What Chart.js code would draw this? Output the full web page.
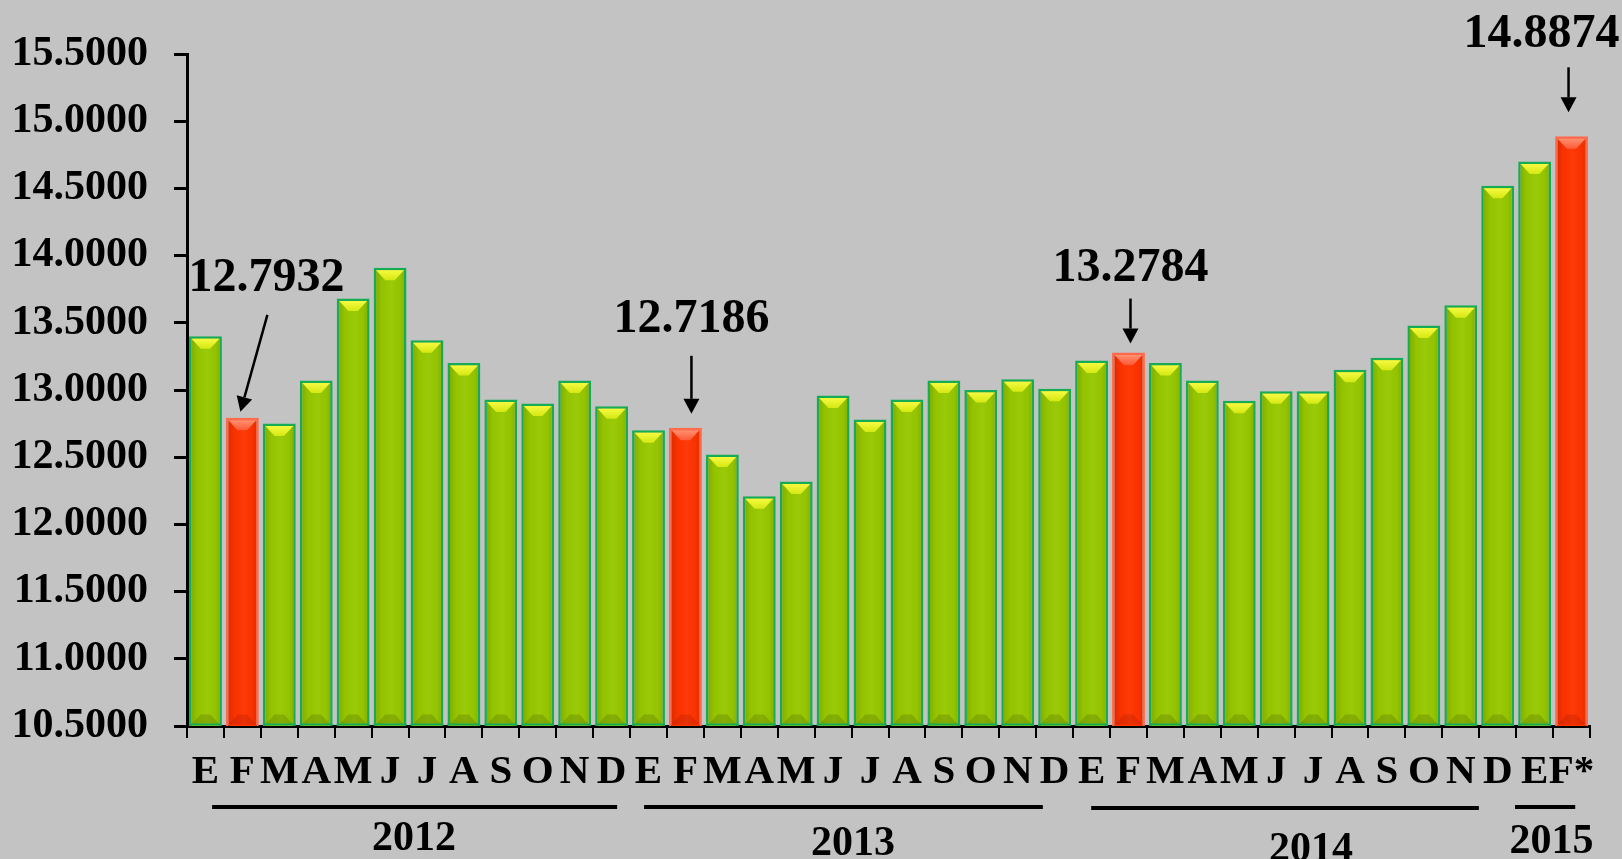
<!DOCTYPE html>
<html><head><meta charset="utf-8">
<script src="https://cdn.jsdelivr.net/npm/chart.js@4.4.1/dist/chart.umd.min.js"></script>
<style>html,body{margin:0;padding:0;background:#c3c3c3;}canvas{display:block;}</style>
</head><body>
<canvas id="c" width="1622" height="859"></canvas>
<script>
// ---- data ----
const monthLabels = ['E','F','M','A','M','J','J','A','S','O','N','D'];
const years = ['2012','2013','2014','2015'];
const values2012 = [13.40, 12.7932, 12.75, 13.07, 13.68, 13.91, 13.37, 13.20, 12.93, 12.90, 13.07, 12.88];
const values2013 = [12.70, 12.7186, 12.52, 12.21, 12.32, 12.96, 12.78, 12.93, 13.07, 13.00, 13.08, 13.01];
const values2014 = [13.22, 13.2784, 13.20, 13.07, 12.92, 12.99, 12.99, 13.15, 13.24, 13.48, 13.63, 14.52];
const values2015 = [14.70, 14.8874];
const labels2015 = ['E','F*'];
const highlightIdx = [1, 13, 25, 37];
const calloutTexts = ['12.7932', '12.7186', '13.2784', '14.8874'];
const yMin = 10.5, yMax = 15.5, yStep = 0.5;

const categories = [...monthLabels, ...monthLabels, ...monthLabels, ...labels2015];
const values = [...values2012, ...values2013, ...values2014, ...values2015];

// ---- layout / style (decoration) ----
const SERIF = '"Liberation Serif", "Times New Roman", serif';
const GREEN = '#97c800', GREEN_BORDER = '#16ab55';
const RED = '#ff3300', RED_BORDER = '#ff6a4c';
const calloutLayout = [
  {tx: 24, ty: -127, ax0: 25, ay0: -103, ax1: -2, ay1: -6},
  {tx: 6, ty: -96, ax0: 6, ay0: -72, ax1: 6, ay1: -14},
  {tx: 2, ty: -72, ax0: 2, ay0: -54, ax1: 2, ay1: -9},
  {tx: -30, ty: -89, ax0: -3, ay0: -69, ax1: -3, ay1: -24}
];
const yearLayout = [
  {from: 0.18, to: 11.15, textAt: 5.65, lineY: 807, textY: 850},
  {from: 11.88, to: 22.68, textAt: 17.54, lineY: 807, textY: 855},
  {from: 23.99, to: 34.49, textAt: 29.94, lineY: 808, textY: 861},
  {from: 35.47, to: 37.1, textAt: 36.46, lineY: 807, textY: 853}
];

const isRed = i => highlightIdx.includes(i);

const bevelPlugin = {
  id: 'bevel',
  afterDatasetsDraw(chart) {
    const ctx = chart.ctx;
    const area = chart.chartArea;
    const meta = chart.getDatasetMeta(0);
    ctx.save();
    ctx.beginPath();
    ctx.rect(area.left, area.top, area.right - area.left, area.bottom - area.top);
    ctx.clip();
    meta.data.forEach((bar, i) => {
      const {x, y, base, width} = bar.getProps(['x', 'y', 'base', 'width'], true);
      const red = isRed(i);
      const b = 2.5;
      const l = x - width / 2 + b, r = x + width / 2 - b;
      const t = y + b, bt = Math.min(base, area.bottom) - 1.5;
      // horizontal shading
      const g = ctx.createLinearGradient(l, 0, r, 0);
      g.addColorStop(0, 'rgba(0,0,0,0.13)');
      g.addColorStop(0.22, 'rgba(0,0,0,0.02)');
      g.addColorStop(0.55, 'rgba(255,255,255,0.04)');
      g.addColorStop(0.85, 'rgba(0,0,0,0.02)');
      g.addColorStop(1, 'rgba(0,0,0,0.10)');
      ctx.fillStyle = g;
      ctx.fillRect(l, t, r - l, bt - t);
      // top bevel
      const bh = 10;
      const half = (r - l) * 0.17;
      const tg = ctx.createLinearGradient(0, t, 0, t + bh);
      if (red) { tg.addColorStop(0, '#ff9070'); tg.addColorStop(1, '#ff5a36'); }
      else { tg.addColorStop(0, '#f6fa40'); tg.addColorStop(1, '#d4e812'); }
      ctx.fillStyle = tg;
      ctx.beginPath();
      ctx.moveTo(l, t); ctx.lineTo(r, t); ctx.lineTo(x + half, t + bh); ctx.lineTo(x - half, t + bh);
      ctx.closePath(); ctx.fill();
      // bottom bevel
      ctx.fillStyle = red ? 'rgba(150,20,0,0.22)' : 'rgba(70,90,0,0.25)';
      ctx.beginPath();
      ctx.moveTo(l, bt); ctx.lineTo(r, bt); ctx.lineTo(x + half, bt - bh); ctx.lineTo(x - half, bt - bh);
      ctx.closePath(); ctx.fill();
      // bottom border line for green bars
      if (!red) { ctx.fillStyle = GREEN_BORDER; ctx.fillRect(l - b, bt - 1, r - l + 2 * b, 2); }
    });
    ctx.restore();
  }
};

const decorPlugin = {
  id: 'decor',
  afterDraw(chart) {
    const ctx = chart.ctx;
    const xs = chart.scales.x, ys = chart.scales.y;
    ctx.save();
    // callouts
    ctx.fillStyle = '#000'; ctx.strokeStyle = '#000';
    ctx.font = 'bold 48px ' + SERIF;
    ctx.textAlign = 'center'; ctx.textBaseline = 'alphabetic';
    highlightIdx.forEach((idx, k) => {
      const L = calloutLayout[k];
      const bx = xs.getPixelForValue(idx);
      const by = ys.getPixelForValue(values[idx]);
      ctx.fillText(calloutTexts[k], bx + L.tx, by + L.ty);
      const x0 = bx + L.ax0, y0 = by + L.ay0, x1 = bx + L.ax1, y1 = by + L.ay1;
      const ang = Math.atan2(y1 - y0, x1 - x0);
      const hl = 15, hw = 8;
      const hx = x1 - hl * Math.cos(ang), hy = y1 - hl * Math.sin(ang);
      ctx.lineWidth = 2.5;
      ctx.beginPath(); ctx.moveTo(x0, y0); ctx.lineTo(hx, hy); ctx.stroke();
      ctx.beginPath();
      ctx.moveTo(x1, y1);
      ctx.lineTo(hx + hw * Math.sin(ang), hy - hw * Math.cos(ang));
      ctx.lineTo(hx - hw * Math.sin(ang), hy + hw * Math.cos(ang));
      ctx.closePath(); ctx.fill();
    });
    // year lines & labels
    ctx.font = 'bold 42px ' + SERIF;
    years.forEach((yr, k) => {
      const Y = yearLayout[k];
      ctx.lineWidth = 4;
      ctx.beginPath();
      ctx.moveTo(xs.getPixelForValue(Y.from), Y.lineY);
      ctx.lineTo(xs.getPixelForValue(Y.to), Y.lineY);
      ctx.stroke();
      ctx.fillText(yr, xs.getPixelForValue(Y.textAt), Y.textY);
    });
    ctx.restore();
  }
};

new Chart(document.getElementById('c'), {
  type: 'bar',
  data: {
    labels: categories,
    datasets: [{
      data: values,
      backgroundColor: values.map((v, i) => isRed(i) ? RED : GREEN),
      borderColor: values.map((v, i) => isRed(i) ? RED_BORDER : GREEN_BORDER),
      borderWidth: 2.5,
      borderSkipped: false,
      barPercentage: 0.89,
      categoryPercentage: 1.0
    }]
  },
  options: {
    responsive: false,
    animation: false,
    layout: {padding: {top: 54, right: 32, bottom: 0, left: 0}},
    plugins: {legend: {display: false}, tooltip: {enabled: false}},
    scales: {
      x: {
        afterFit: s => { s.height = 133; },
        grid: {drawOnChartArea: false, drawTicks: true, tickLength: 12, color: '#000', lineWidth: 2, offset: true},
        border: {display: true, color: '#000', width: 3},
        ticks: {autoSkip: false, maxRotation: 0, minRotation: 0, padding: 10, color: '#000',
                font: {family: SERIF, size: 41, weight: 'bold'}}
      },
      y: {
        min: yMin, max: yMax,
        afterFit: s => { s.width = 187; },
        grid: {drawOnChartArea: false, drawTicks: true, tickLength: 13, color: '#000', lineWidth: 3},
        border: {display: true, color: '#000', width: 3},
        ticks: {stepSize: yStep, padding: 26, color: '#000',
                font: {family: SERIF, size: 42, weight: 'bold'},
                callback: v => Number(v).toFixed(4)}
      }
    }
  },
  plugins: [bevelPlugin, decorPlugin]
});
</script>
</body></html>
